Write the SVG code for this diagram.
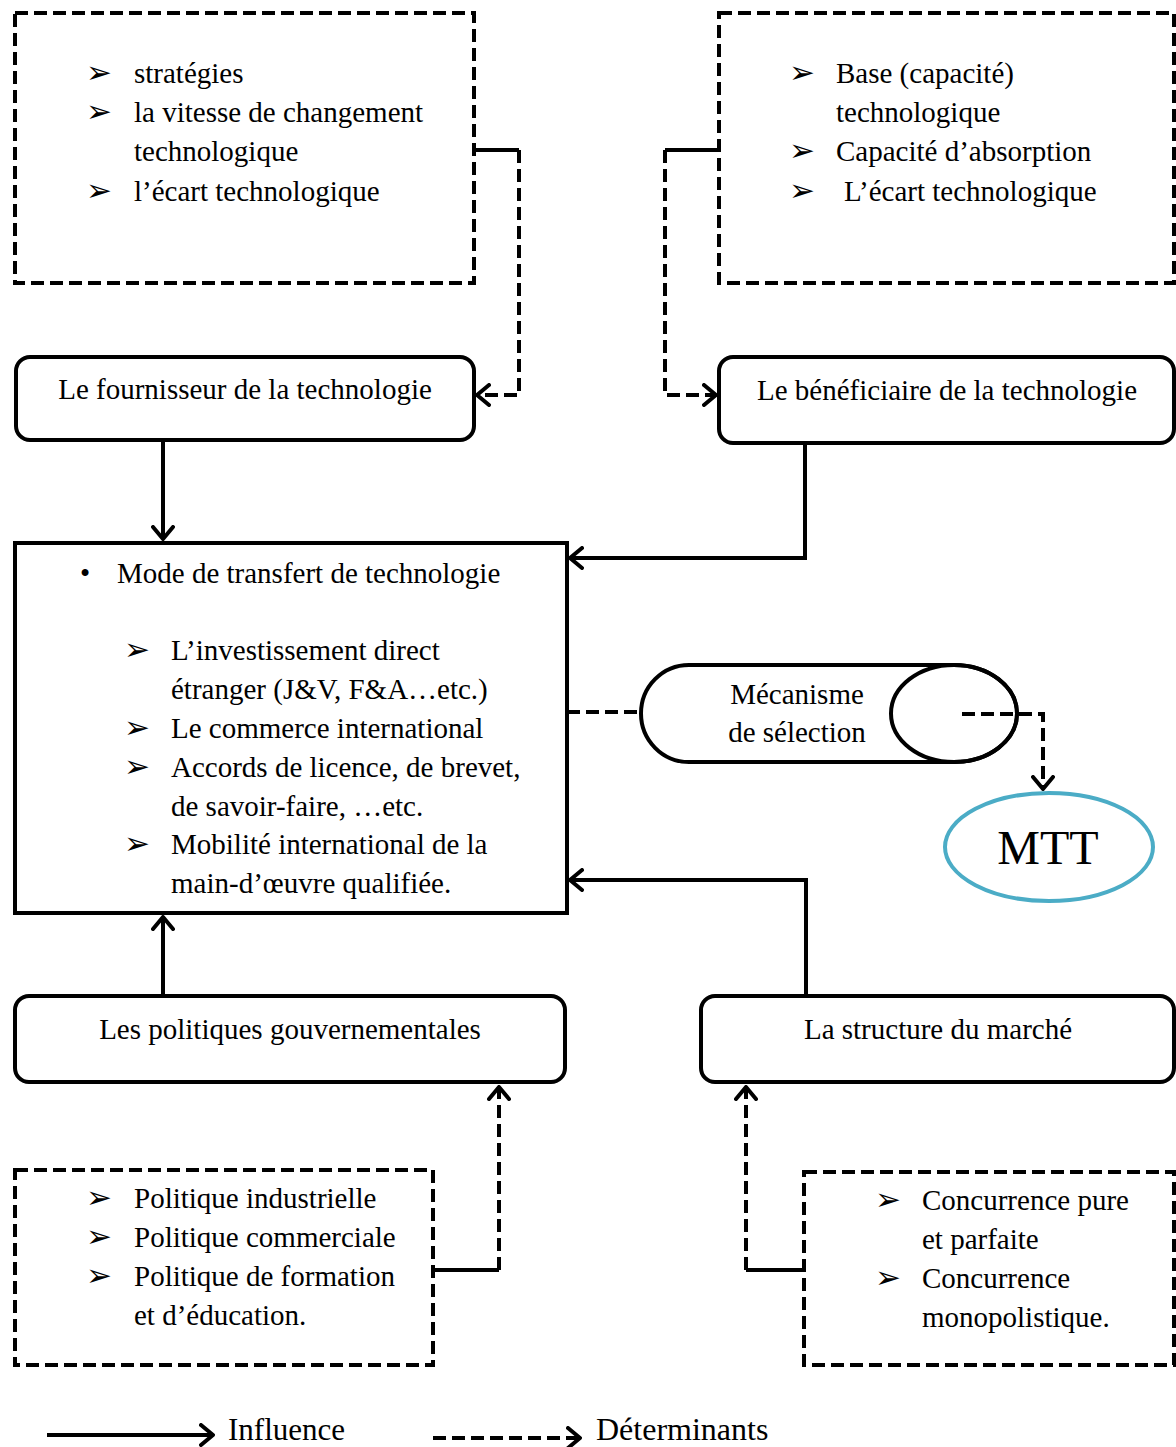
<svg xmlns="http://www.w3.org/2000/svg" width="1176" height="1447" viewBox="0 0 1176 1447">
<style>
.t{font-family:"Liberation Serif","Times New Roman",serif;font-size:29px;fill:#000}
.b{font-family:"DejaVu Sans",sans-serif;font-size:31px;fill:#000}
.dbox{fill:none;stroke:#000;stroke-width:4;stroke-dasharray:13 6}
.box{fill:#fff;stroke:#000;stroke-width:4}
.sl{fill:none;stroke:#000;stroke-width:4}
.dl{fill:none;stroke:#000;stroke-width:4;stroke-dasharray:13 6}
</style>
<defs>
<marker id="ah" viewBox="0 0 16 24" refX="14" refY="12" markerWidth="16" markerHeight="24" markerUnits="userSpaceOnUse" orient="auto">
<path d="M2,2 L14,12 L2,22" fill="none" stroke="#000" stroke-width="4" stroke-dasharray="none" stroke-linecap="round" stroke-linejoin="round"/>
</marker>
</defs>
<rect width="1176" height="1447" fill="#fff"/>

<g id="connectors">
<path class="sl" d="M474,150 H519"/>
<path class="dl" d="M519,150 V395 H477" marker-end="url(#ah)"/>
<path class="sl" d="M719,150 H665"/>
<path class="dl" d="M665,150 V395 H716" marker-end="url(#ah)"/>
<path class="sl" d="M163,440 V539" marker-end="url(#ah)"/>
<path class="sl" d="M805,443 V558 H570" marker-end="url(#ah)"/>
<path class="sl" d="M163,996 V917" marker-end="url(#ah)"/>
<path class="sl" d="M806,996 V880 H570" marker-end="url(#ah)"/>
<path class="dl" d="M567,712 H641"/>
<path class="dl" d="M962,714 H1043 V789" marker-end="url(#ah)"/>
<path class="sl" d="M433,1270 H499"/>
<path class="dl" d="M499,1270 V1087" marker-end="url(#ah)"/>
<path class="sl" d="M804,1270 H746"/>
<path class="dl" d="M746,1270 V1087" marker-end="url(#ah)"/>
</g>

<g id="det-fournisseur">
<rect class="dbox" x="15" y="13" width="459" height="270"/>
<text class="b" x="86" y="83">➢</text><text class="t" x="134" y="83">stratégies</text>
<text class="b" x="86" y="122">➢</text><text class="t" x="134" y="122">la vitesse de changement</text>
<text class="t" x="134" y="161">technologique</text>
<text class="b" x="86" y="201">➢</text><text class="t" x="134" y="201">l’écart technologique</text>
</g>

<g id="det-beneficiaire">
<rect class="dbox" x="719" y="13" width="455" height="270"/>
<text class="b" x="789" y="83">➢</text><text class="t" x="836" y="83">Base (capacité)</text>
<text class="t" x="836" y="122">technologique</text>
<text class="b" x="789" y="161">➢</text><text class="t" x="836" y="161">Capacité d’absorption</text>
<text class="b" x="789" y="201">➢</text><text class="t" x="844" y="201">L’écart technologique</text>
</g>

<g id="fournisseur">
<rect class="box" x="16" y="357" width="458" height="83" rx="14"/>
<text class="t" x="245" y="399" text-anchor="middle">Le fournisseur de la technologie</text>
</g>

<g id="beneficiaire">
<rect class="box" x="719" y="357" width="455" height="86" rx="14"/>
<text class="t" x="947" y="400" text-anchor="middle">Le bénéficiaire de la technologie</text>
</g>

<g id="mode">
<rect class="box" x="15" y="543" width="552" height="370"/>
<text class="t" x="80" y="583">•</text><text class="t" x="117" y="583">Mode de transfert de technologie</text>
<text class="b" x="124" y="660">➢</text><text class="t" x="171" y="660">L’investissement direct</text>
<text class="t" x="171" y="699">étranger (J&amp;V, F&amp;A…etc.)</text>
<text class="b" x="124" y="738">➢</text><text class="t" x="171" y="738">Le commerce international</text>
<text class="b" x="124" y="777">➢</text><text class="t" x="171" y="777">Accords de licence, de brevet,</text>
<text class="t" x="171" y="816">de savoir-faire, …etc.</text>
<text class="b" x="124" y="854">➢</text><text class="t" x="171" y="854">Mobilité international de la</text>
<text class="t" x="171" y="893">main-d’œuvre qualifiée.</text>
</g>

<g id="mecanisme">
<path class="sl" d="M689,665 H954 A63,48.5 0 0 1 954,762 H689 A48,48.5 0 0 1 689,665 Z" fill="#fff"/>
<ellipse class="sl" cx="954" cy="713.5" rx="63" ry="48.5"/>
<text class="t" x="797" y="704" text-anchor="middle">Mécanisme</text>
<text class="t" x="797" y="742" text-anchor="middle">de sélection</text>
</g>

<g id="mtt">
<ellipse cx="1049" cy="847" rx="104" ry="54" fill="#fff" stroke="#4BACC6" stroke-width="4"/>
<text x="1048" y="864" text-anchor="middle" style="font-family:'Liberation Serif',serif;font-size:48px">MTT</text>
</g>

<g id="politiques">
<rect class="box" x="15" y="996" width="550" height="86" rx="14"/>
<text class="t" x="290" y="1039" text-anchor="middle">Les politiques gouvernementales</text>
</g>

<g id="structure">
<rect class="box" x="701" y="996" width="473" height="86" rx="14"/>
<text class="t" x="938" y="1039" text-anchor="middle">La structure du marché</text>
</g>

<g id="det-politiques">
<rect class="dbox" x="15" y="1170" width="418" height="195"/>
<text class="b" x="86" y="1208">➢</text><text class="t" x="134" y="1208">Politique industrielle</text>
<text class="b" x="86" y="1247">➢</text><text class="t" x="134" y="1247">Politique commerciale</text>
<text class="b" x="86" y="1286">➢</text><text class="t" x="134" y="1286">Politique de formation</text>
<text class="t" x="134" y="1325">et d’éducation.</text>
</g>

<g id="det-structure">
<rect class="dbox" x="804" y="1172" width="370" height="193"/>
<text class="b" x="875" y="1210">➢</text><text class="t" x="922" y="1210">Concurrence pure</text>
<text class="t" x="922" y="1249">et parfaite</text>
<text class="b" x="875" y="1288">➢</text><text class="t" x="922" y="1288">Concurrence</text>
<text class="t" x="922" y="1327">monopolistique.</text>
</g>

<g id="legend">
<path class="sl" d="M47,1435 H213" marker-end="url(#ah)"/>
<text class="t" x="228" y="1440" style="font-size:31px">Influence</text>
<path class="dl" d="M433,1438 H580" marker-end="url(#ah)"/>
<text class="t" x="596" y="1440" style="font-size:32px">Déterminants</text>
</g>
</svg>
